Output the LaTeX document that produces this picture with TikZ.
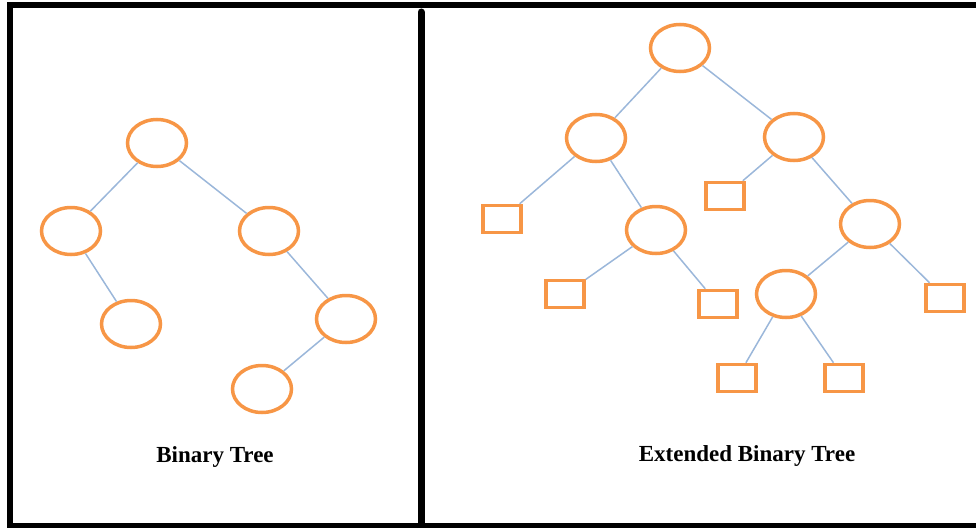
\documentclass[tikz,border=0pt]{standalone}
\usepackage{fontspec}
\setmainfont{Liberation Serif}
\usepackage{tikz}
\usetikzlibrary{shapes.geometric}

\definecolor{nodeorange}{HTML}{F79646}
\definecolor{edgeblue}{HTML}{9BB7DA}

\begin{document}
\begin{tikzpicture}[x=1pt,y=-1pt,
  inode/.style={ellipse,draw=nodeorange,line width=3.5pt,minimum width=59pt,minimum height=47pt,inner sep=0pt},
  xnode/.style={rectangle,draw=nodeorange,line width=3.5pt,minimum width=38pt,minimum height=27pt,inner sep=0pt},
  link/.style={draw=edgeblue,line width=1.5pt},
  caption/.style={anchor=base,font=\fontsize{23}{27}\selectfont\bfseries}]
  \useasboundingbox (0,0) rectangle (976,527);

  % frame and divider
  \draw[line width=6pt] (10,527) -- (10,5.5) -- (976,5.5);
  \draw[line width=5pt] (7,525) -- (976,525);
  \draw[line width=7pt,line cap=round] (421,12) -- (421,527);

  % binary tree
  \node[inode] (a) at (157,143) {};
  \node[inode] (al) at (71,231) {};
  \node[inode] (ar) at (269,231) {};
  \node[inode] (all) at (131,324) {};
  \node[inode] (arr) at (346,319) {};
  \node[inode] (arrl) at (262,389) {};

  \draw[link] (a) -- (al);
  \draw[link] (a) -- (ar);
  \draw[link] (al) -- (all);
  \draw[link] (ar) -- (arr);
  \draw[link] (arr) -- (arrl);

  \node[caption] (bt) at (215,462) {Binary Tree};

  % extended binary tree
  \node[inode] (b) at (680,48) {};
  \node[inode] (bl) at (596,138) {};
  \node[inode] (br) at (794,137) {};
  \node[xnode] (bll) at (502,219) {};
  \node[inode] (blr) at (656,230) {};
  \node[xnode] (blrl) at (565,294) {};
  \node[xnode] (blrr) at (718,304) {};
  \node[xnode] (brl) at (725,196) {};
  \node[inode] (brr) at (870,224) {};
  \node[inode] (brrl) at (786,294) {};
  \node[xnode] (brrr) at (945,298) {};
  \node[xnode] (brrll) at (737,378) {};
  \node[xnode] (brrlr) at (844,378) {};

  \draw[link] (b) -- (bl);
  \draw[link] (b) -- (br);
  \draw[link] (bl) -- (bll);
  \draw[link] (bl) -- (blr);
  \draw[link] (blr) -- (blrl);
  \draw[link] (blr) -- (blrr);
  \draw[link] (br) -- (brl);
  \draw[link] (br) -- (brr);
  \draw[link] (brr) -- (brrl);
  \draw[link] (brr) -- (brrr);
  \draw[link] (brrl) -- (brrll);
  \draw[link] (brrl) -- (brrlr);

  \node[caption] (ebt) at (747,461) {Extended Binary Tree};
\end{tikzpicture}
\end{document}
